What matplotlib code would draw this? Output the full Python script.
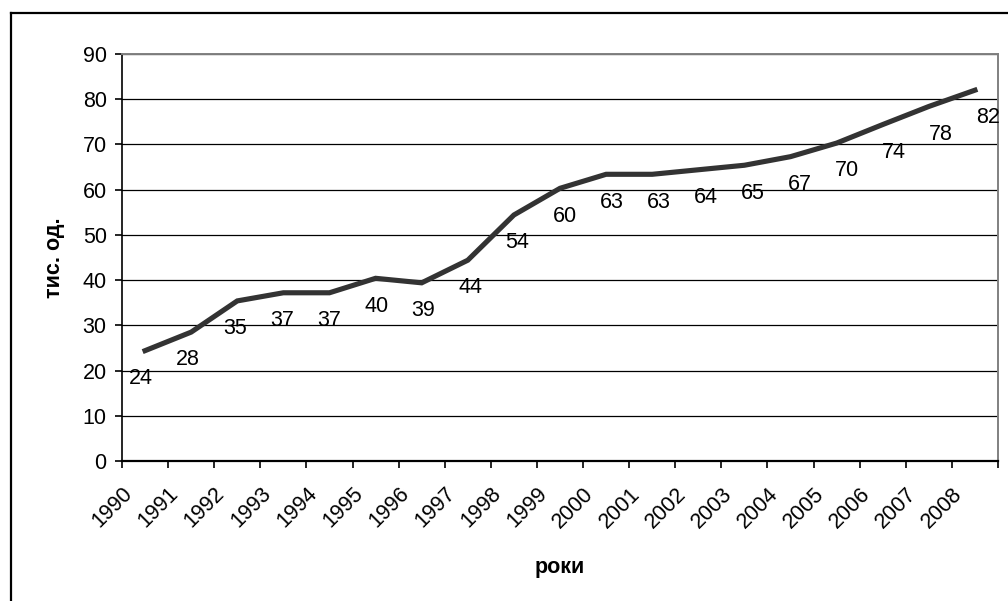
import matplotlib
matplotlib.use("Agg")
import matplotlib.pyplot as plt
import matplotlib.transforms as mtransforms
from matplotlib.lines import Line2D
import numpy as np

YEARS = [str(y) for y in range(1990, 2009)]
VALUES = [24.4, 28.5, 35.4, 37.2, 37.2, 40.4, 39.4, 44.4, 54.4, 60.3,
          63.4, 63.4, 64.4, 65.4, 67.3, 70.3, 74.4, 78.4, 82.0]
Y_TICKS = list(range(0, 100, 10))

LINE = "#333333"
INK = "#000000"
FRAME = "#808080"
FS = 15.5

plt.rcParams.update({
    "font.family": ["Liberation Sans", "DejaVu Sans"],
    "font.size": FS,
    "text.color": INK,
})

fig = plt.figure(figsize=(10.08, 6.01), dpi=100)
fig.patch.set_facecolor("white")

# outer chart frame (only top/left edges fall inside the canvas)
W, H = 1008, 601
fig.add_artist(Line2D([10.5 / W, 10.5 / W], [0, 1 - 12.5 / H], transform=fig.transFigure,
                      color=INK, lw=1.6))
fig.add_artist(Line2D([10.5 / W, 1], [1 - 12.5 / H, 1 - 12.5 / H], transform=fig.transFigure,
                      color=INK, lw=1.6))

ax = fig.add_axes([122 / W, 1 - 461 / H, (998 - 122) / W, (461 - 54) / H])

n = len(VALUES)
x = np.arange(n) + 0.5
ax.plot(x, VALUES, color=LINE, lw=3.7, solid_joinstyle="miter", zorder=3, clip_on=False)

for i, v in enumerate(VALUES):
    ax.annotate(f"{v:.0f}", (x[i], v), xytext=(-3 + i * 0.7, -20), textcoords="offset points",
                ha="center", va="center", fontsize=FS, zorder=4)

ax.set_xlim(0, n)
ax.set_ylim(0, 90)
ax.set_yticks(Y_TICKS)
ax.yaxis.grid(True, color=INK, lw=0.9)
ax.set_axisbelow(True)

# category ticks sit on the boundaries; year names hang from the left boundary
ax.set_xticks(np.arange(n + 1))
ax.set_xticklabels([])
year_tf = ax.get_xaxis_transform() + mtransforms.ScaledTranslation(0, -16 / 72, fig.dpi_scale_trans)
for i, year in enumerate(YEARS):
    ax.text(i, 0, year, transform=year_tf, rotation=45, ha="right", va="top",
            rotation_mode="anchor", fontsize=FS)

ax.tick_params(axis="both", direction="out", length=5, width=1.2, color=INK, labelsize=FS)
ax.tick_params(axis="y", pad=6)

ax.spines["left"].set_color(INK)
ax.spines["left"].set_linewidth(1.2)
ax.spines["bottom"].set_color(INK)
ax.spines["bottom"].set_linewidth(1.6)
ax.spines["top"].set_color(FRAME)
ax.spines["right"].set_color(FRAME)
ax.spines["top"].set_linewidth(1.4)
ax.spines["right"].set_linewidth(1.4)

ax.set_ylabel("тис. од.", fontsize=FS, fontweight="bold")
ax.set_xlabel("роки", fontsize=FS, fontweight="bold")
ax.xaxis.set_label_coords(0.5, -0.235)
ax.yaxis.set_label_coords(-0.065, 0.5)

fig.savefig("out.png", dpi=100, facecolor="white")
